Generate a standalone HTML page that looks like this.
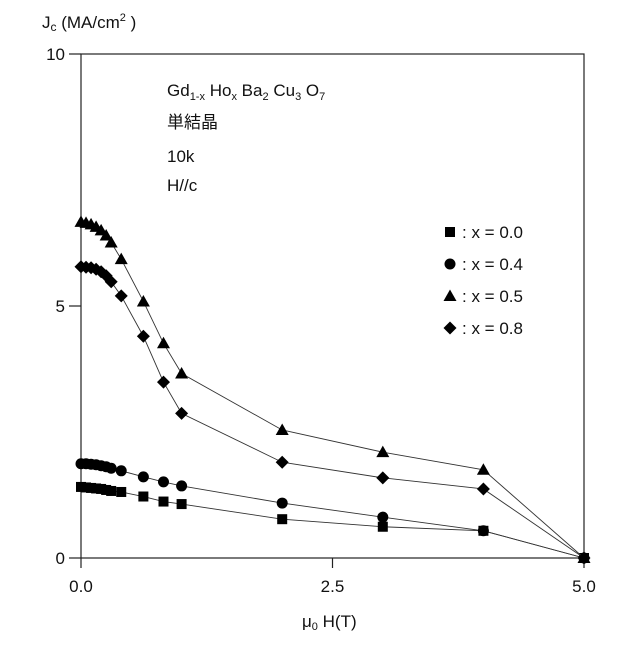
<!DOCTYPE html>
<html><head><meta charset="utf-8"><style>
body{margin:0;background:#fff}
svg text{font-family:"Liberation Sans","Noto Sans CJK JP",sans-serif;fill:#111}
</style></head><body>
<svg width="640" height="640" viewBox="0 0 640 640">
<g id="frame"></g><g id="series"></g><g id="labels"></g>
</svg>
<script>
const categoriesH = [0,0.05,0.1,0.15,0.2,0.25,0.3,0.4,0.62,0.82,1.0,2,3,4,5];
const seriesX00 = [1.41,1.40,1.39,1.38,1.37,1.35,1.33,1.31,1.22,1.12,1.07,0.77,0.62,0.54,0];
const seriesX04 = [1.87,1.87,1.86,1.85,1.83,1.81,1.78,1.73,1.61,1.51,1.43,1.09,0.81,0.54,0];
const seriesX05 = [6.67,6.65,6.62,6.57,6.50,6.40,6.26,5.93,5.09,4.26,3.66,2.54,2.10,1.75,0];
const seriesX08 = [5.78,5.77,5.76,5.73,5.68,5.60,5.48,5.20,4.40,3.49,2.87,1.90,1.59,1.37,0];
const xTicks = [0,2.5,5];
const xTickLabels = ["0.0","2.5","5.0"];
const yTicks = [0,5,10];
const yTickLabels = ["0","5","10"];
const legendLabels = [": x = 0.0",": x = 0.4",": x = 0.5",": x = 0.8"];
const markerTypes = ["square","circle","triangle","diamond"];

const NS="http://www.w3.org/2000/svg";
const X0=81,X1=584,Y0=558,Y1=54;
const xs=v=>X0+(X1-X0)*v/5;
const ys=v=>Y0-(Y0-Y1)*v/10;
function mk(tag,attrs,parent){const e=document.createElementNS(NS,tag);for(const k in attrs)e.setAttribute(k,attrs[k]);parent.appendChild(e);return e;}
const frame=document.getElementById('frame'),ser=document.getElementById('series'),lab=document.getElementById('labels');
const box=mk('rect',{x:X0,y:Y1,width:X1-X0,height:Y0-Y1,fill:'none',stroke:'#222','stroke-width':1.2},frame);


yTicks.forEach((v,i)=>{
  const t=mk('line',{x1:X0-12,x2:X0,y1:ys(v),y2:ys(v),stroke:'#222','stroke-width':1.2},frame);
  
  
  const tx=mk('text',{x:X0-16,y:ys(v)+6,'text-anchor':'end','font-size':17},lab);
  tx.textContent=yTickLabels[i];
  
  
});
xTicks.forEach((v,i)=>{
  const t=mk('line',{x1:xs(v),x2:xs(v),y1:Y0,y2:Y0+10,stroke:'#222','stroke-width':1.2},frame);
  
  
  const tx=mk('text',{x:xs(v),y:Y0+34,'text-anchor':'middle','font-size':17},lab);
  tx.textContent=xTickLabels[i];
  
  
});
function marker(type,cx,cy,parent){
  let e;
  if(type==='square')e=mk('rect',{x:cx-5,y:cy-5,width:10,height:10,fill:'#000'},parent);
  else if(type==='circle')e=mk('circle',{cx:cx,cy:cy,r:5.5,fill:'#000'},parent);
  else if(type==='triangle')e=mk('polygon',{points:`${cx},${cy-6.5} ${cx+6.5},${cy+5} ${cx-6.5},${cy+5}`,fill:'#000'},parent);
  else e=mk('polygon',{points:`${cx},${cy-6.5} ${cx+6.5},${cy} ${cx},${cy+6.5} ${cx-6.5},${cy}`,fill:'#000'},parent);
  return e;
}
const allSeries=[seriesX00,seriesX04,seriesX05,seriesX08];
const names=['x-0-0','x-0-4','x-0-5','x-0-8'];
allSeries.forEach((s,si)=>{
  const g=mk('g',{},ser);
  
  
  const pl=mk('polyline',{points:s.map((v,i)=>xs(categoriesH[i])+','+ys(v)).join(' '),fill:'none',stroke:'#333','stroke-width':0.9},g);
  
  
  s.forEach((v,i)=>{
    const m=marker(markerTypes[si],xs(categoriesH[i]),ys(v),g);
    
    
  });
  const ly=232+si*32;
  const lm=marker(markerTypes[si],450,ly,g);
  
  
  const lt=mk('text',{x:462,y:ly+6,'font-size':17},g);
  lt.textContent=legendLabels[si];
  
  
});
</script>
<svg width="640" height="640" style="position:absolute;left:0;top:0">
<text x="42" y="28" font-size="17">J<tspan font-size="12" dy="3">c</tspan><tspan dy="-3"> (MA/cm</tspan><tspan font-size="11" dy="-7">2</tspan><tspan dy="7"> )</tspan></text>
<text x="302" y="627" font-size="17">μ<tspan font-size="11" dy="3">0</tspan><tspan dy="-3"> H(T)</tspan></text>
<text x="167" y="96" font-size="17">Gd<tspan font-size="11" dy="4">1-x</tspan><tspan dy="-4"> Ho</tspan><tspan font-size="11" dy="4">x</tspan><tspan dy="-4"> Ba</tspan><tspan font-size="11" dy="4">2</tspan><tspan dy="-4"> Cu</tspan><tspan font-size="11" dy="4">3</tspan><tspan dy="-4"> O</tspan><tspan font-size="11" dy="4">7</tspan></text>
<text x="167" y="128" font-size="17">単結晶</text>
<text x="167" y="162" font-size="17">10k</text>
<text x="167" y="191" font-size="17">H//c</text>
</svg>
</body></html>
